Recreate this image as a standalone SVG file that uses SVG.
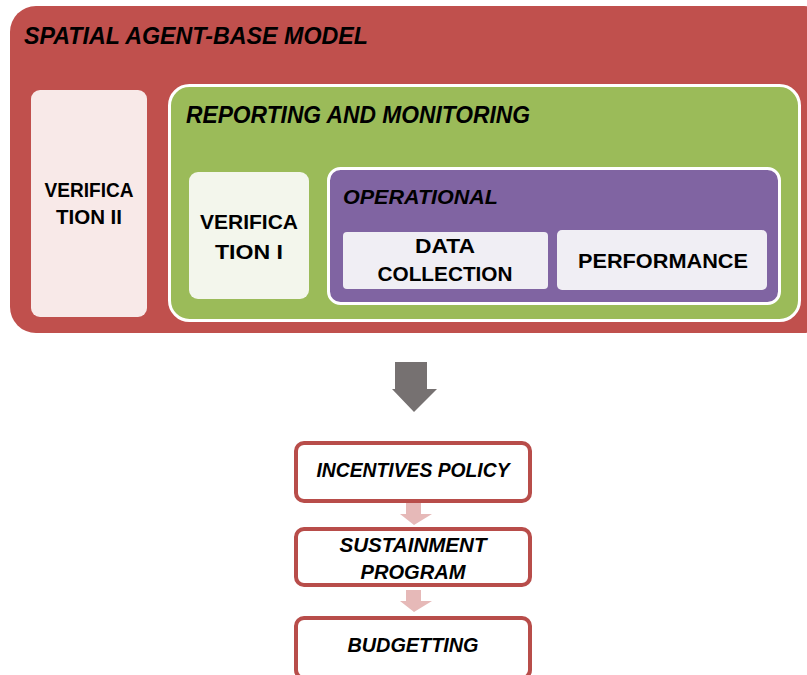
<svg xmlns="http://www.w3.org/2000/svg" width="807" height="675" viewBox="0 0 807 675">
<style>
text{font-family:"Liberation Sans",Arial,sans-serif;font-weight:bold;fill:#000;}
.it{font-style:italic;}
.c{text-anchor:middle;}
.flow{fill:#fff;stroke:#B84D4A;stroke-width:4;}
.small{fill:#E6B9B8;}
</style>
<rect width="807" height="675" fill="#fff"/>
<g id="spatial-model">
<rect x="10" y="6" width="820" height="327" rx="26" fill="#C0504D"/>
<text class="it" x="24" y="44" font-size="23" textLength="344" lengthAdjust="spacingAndGlyphs">SPATIAL AGENT-BASE MODEL</text>
</g>
<g id="verification-2">
<rect x="31" y="90" width="116" height="227" rx="9" fill="#F8E9E8"/>
<text class="c" x="89" y="197" font-size="20" textLength="89" lengthAdjust="spacingAndGlyphs">VERIFICA</text>
<text class="c" x="89" y="224" font-size="20" textLength="66" lengthAdjust="spacingAndGlyphs">TION II</text>
</g>
<g id="reporting">
<rect x="169.5" y="85.5" width="630" height="235" rx="20" fill="#9BBB59" stroke="#fff" stroke-width="3"/>
<text class="it" x="186" y="123" font-size="23" textLength="344" lengthAdjust="spacingAndGlyphs">REPORTING AND MONITORING</text>
</g>
<g id="verification-1">
<rect x="189" y="172" width="120" height="127" rx="9" fill="#F3F6EC"/>
<text class="c" x="249" y="229" font-size="21" textLength="98" lengthAdjust="spacingAndGlyphs">VERIFICA</text>
<text class="c" x="249" y="259" font-size="21" textLength="68" lengthAdjust="spacingAndGlyphs">TION I</text>
</g>
<g id="operational">
<rect x="328.5" y="168.5" width="451" height="135" rx="12" fill="#8064A2" stroke="#fff" stroke-width="3"/>
<text class="it" x="343" y="204" font-size="21" textLength="155" lengthAdjust="spacingAndGlyphs">OPERATIONAL</text>
</g>
<g id="data-collection">
<rect x="343" y="232" width="205" height="57" rx="4" fill="#F0EEF4"/>
<text class="c" x="445" y="253" font-size="20" textLength="60" lengthAdjust="spacingAndGlyphs">DATA</text>
<text class="c" x="445" y="281" font-size="20" textLength="135" lengthAdjust="spacingAndGlyphs">COLLECTION</text>
</g>
<g id="performance">
<rect x="557" y="230" width="210" height="60" rx="5" fill="#F0EEF4"/>
<text class="c" x="663" y="268" font-size="21" textLength="170" lengthAdjust="spacingAndGlyphs">PERFORMANCE</text>
</g>
<g id="incentives-policy">
<rect class="flow" x="296" y="443" width="234" height="58" rx="8"/>
<text class="it c" x="413" y="477" font-size="20" textLength="193" lengthAdjust="spacingAndGlyphs">INCENTIVES POLICY</text>
</g>
<g id="sustainment-program">
<rect class="flow" x="296" y="529" width="234" height="56" rx="8"/>
<text class="it c" x="413" y="552" font-size="20" textLength="147" lengthAdjust="spacingAndGlyphs">SUSTAINMENT</text>
<text class="it c" x="413" y="579" font-size="20" textLength="105" lengthAdjust="spacingAndGlyphs">PROGRAM</text>
</g>
<g id="budgetting">
<rect class="flow" x="296" y="618" width="234" height="60" rx="8"/>
<text class="it c" x="413" y="652" font-size="20" textLength="131" lengthAdjust="spacingAndGlyphs">BUDGETTING</text>
</g>
<g id="connectors">
<polygon points="395,362 427,362 427,389 437,389 414,412 392,389 395,389" fill="#767171"/>
<polygon class="small" points="406,503 421,503 421,514 432,514 414,525 400,514 406,514"/>
<polygon class="small" points="406,590 421,590 421,601 432,601 414,612 400,601 406,601"/>
</g>
</svg>
